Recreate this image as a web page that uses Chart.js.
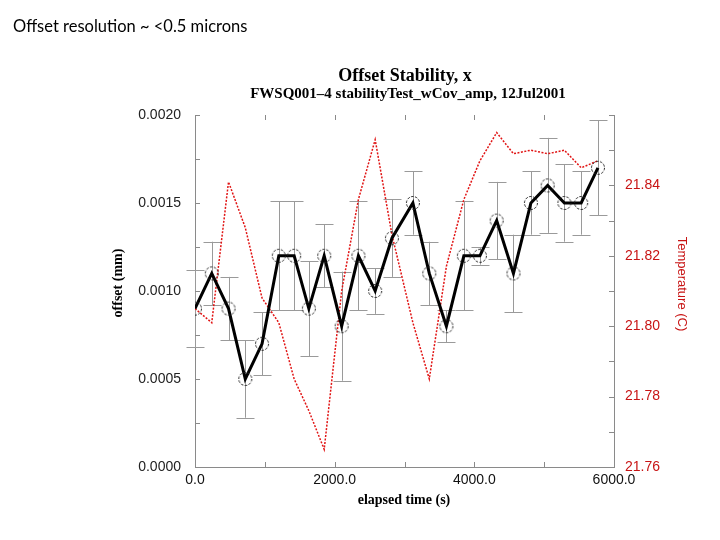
<!DOCTYPE html>
<html>
<head>
<meta charset="utf-8">
<script src="https://cdn.jsdelivr.net/npm/chart.js@4.4.0/dist/chart.umd.min.js"></script>
<style>
  body { margin: 0; background: #fff; }
  #wrap { position: relative; width: 720px; height: 540px; }
  #note { position: absolute; left: 13px; top: 16px; font: 16.5px Lato, "Open Sans", sans-serif; color: #000; }
</style>
</head>
<body>
<div id="wrap">
  <canvas id="grafico" width="720" height="540"></canvas>
  <div id="note">Offset resolution ~ &lt;0.5 microns</div>
</div>
<script>
// elapsed time (s) of each measurement
const times = [0, 240, 480, 720, 960, 1200, 1420, 1630, 1850, 2100, 2340, 2580, 2820,
               3120, 3355, 3600, 3850, 4080, 4320, 4560, 4810, 5050, 5290, 5530, 5770];
// offset (mm) and its error
const offsetMm = [0.0009, 0.0011, 0.0009, 0.0005, 0.0007, 0.0012, 0.0012, 0.0009, 0.0012, 0.0008,
                  0.0012, 0.0010, 0.0013, 0.0015, 0.0011, 0.0008, 0.0012, 0.0012, 0.0014, 0.0011,
                  0.0015, 0.0016, 0.0015, 0.0015, 0.0017];
const offsetErr = [0.00022, 0.00018, 0.00018, 0.00022, 0.00018, 0.00031, 0.00031, 0.00027, 0.00018, 0.00031,
                   0.00031, 0.00013, 0.00022, 0.00018, 0.00018, 0.00009, 0.00031, 0.00005, 0.00022, 0.00022,
                   0.00018, 0.00027, 0.00022, 0.00018, 0.00027];
// temperature (C)
const tempC = [21.805, 21.801, 21.841, 21.828, 21.808, 21.801, 21.785, 21.776, 21.765, 21.810,
               21.836, 21.853, 21.826, 21.801, 21.785, 21.817, 21.836, 21.847, 21.855, 21.849,
               21.850, 21.849, 21.850, 21.845, 21.847];

// tick labels
const xLabels = [0, 2000, 4000, 6000];
const offsetLabels = [0, 0.0005, 0.0010, 0.0015, 0.0020];
const tempLabels = [21.76, 21.78, 21.80, 21.82, 21.84];

const rojo = "rgb(200,20,20)";
const gris = "#8a8a8a";
const sans = '"Liberation Sans", Arial, sans-serif';

function tieneEtiqueta(lista, v, tol) {
    return lista.some(l => Math.abs(l - v) < tol);
}

// circulo punteado para los puntos
const marca = document.createElement("canvas");
marca.width = 16; marca.height = 16;
(function () {
    const c = marca.getContext("2d");
    c.strokeStyle = "#222";
    c.lineWidth = 1;
    c.setLineDash([2.5, 1.5]);
    c.beginPath();
    c.arc(8, 8, 6.5, 0, Math.PI * 2);
    c.stroke();
})();

// barras de error
const errorBars = {
    id: "errorBars",
    beforeDatasetsDraw(chart) {
        const ctx = chart.ctx, x = chart.scales.x, y = chart.scales.y;
        ctx.save();
        ctx.strokeStyle = "#9a9a9a";
        ctx.lineWidth = 1;
        times.forEach((t, i) => {
            const px = Math.round(x.getPixelForValue(t)) + 0.5;
            const top = y.getPixelForValue(offsetMm[i] + offsetErr[i]);
            const bot = y.getPixelForValue(offsetMm[i] - offsetErr[i]);
            ctx.beginPath();
            ctx.moveTo(px, top); ctx.lineTo(px, bot);
            ctx.moveTo(px - 9, Math.round(top) + 0.5); ctx.lineTo(px + 9, Math.round(top) + 0.5);
            ctx.moveTo(px - 9, Math.round(bot) + 0.5); ctx.lineTo(px + 9, Math.round(bot) + 0.5);
            ctx.stroke();
        });
        ctx.restore();
    }
};

// marcas hacia adentro y textos
const decoracion = {
    id: "decoracion",
    afterDraw(chart) {
        const ctx = chart.ctx, a = chart.chartArea;
        const x = chart.scales.x, y = chart.scales.y, y1 = chart.scales.y1;
        ctx.save();
        ctx.strokeStyle = gris;
        ctx.lineWidth = 1;
        ctx.beginPath();
        x.ticks.forEach(t => {
            const px = Math.round(x.getPixelForValue(t.value)) + 0.5;
            ctx.moveTo(px, a.bottom); ctx.lineTo(px, a.bottom - 5);
            ctx.moveTo(px, a.top); ctx.lineTo(px, a.top + 5);
        });
        y.ticks.forEach(t => {
            const py = Math.round(y.getPixelForValue(t.value)) + 0.5;
            ctx.moveTo(a.left, py); ctx.lineTo(a.left + 5, py);
        });
        y1.ticks.forEach(t => {
            const py = Math.round(y1.getPixelForValue(t.value)) + 0.5;
            ctx.moveTo(a.right, py); ctx.lineTo(a.right - 5, py);
        });
        ctx.stroke();

        ctx.fillStyle = "#000";
        ctx.textAlign = "center";
        ctx.textBaseline = "middle";
        ctx.font = 'bold 18px "Liberation Serif"';
        ctx.fillText("Offset Stability, x", 405, 76);
        ctx.font = 'bold 15px "Liberation Serif"';
        ctx.fillText("FWSQ001\u20134 stabilityTest_wCov_amp, 12Jul2001", 408, 94);
        ctx.font = 'bold 14px "Liberation Serif"';
        ctx.fillText("elapsed time (s)", 404, 500);

        ctx.save();
        ctx.translate(118, 283);
        ctx.rotate(-Math.PI / 2);
        ctx.fillText("offset (mm)", 0, 0);
        ctx.restore();

        ctx.save();
        ctx.translate(682, 284);
        ctx.rotate(Math.PI / 2);
        ctx.fillStyle = rojo;
        ctx.font = '13px ' + sans;
        ctx.fillText("Temperature (C)", 0, 0);
        ctx.restore();
        ctx.restore();
    }
};

new Chart(document.getElementById("grafico").getContext("2d"), {
    type: "line",
    data: {
        datasets: [
            {
                label: "offset",
                data: times.map((t, i) => ({ x: t, y: offsetMm[i] })),
                yAxisID: "y",
                borderColor: "#000",
                borderWidth: 3,
                pointStyle: marca,
                pointRadius: 6,
                tension: 0
            },
            {
                label: "temperature",
                data: times.map((t, i) => ({ x: t, y: tempC[i] })),
                yAxisID: "y1",
                borderColor: "rgb(225,20,20)",
                borderWidth: 1.5,
                borderDash: [2, 1.5],
                pointRadius: 0,
                tension: 0
            }
        ]
    },
    options: {
        responsive: false,
        animation: false,
        devicePixelRatio: 1,
        layout: { padding: { top: 115, left: 0, right: 0, bottom: 0 } },
        plugins: { legend: { display: false }, tooltip: { enabled: false } },
        scales: {
            x: {
                type: "linear",
                min: 0, max: 6000,
                afterFit: s => { s.height = 73; },
                grid: { display: false, drawTicks: false },
                border: { display: true, color: gris, width: 1 },
                ticks: {
                    stepSize: 1000, autoSkip: false, maxRotation: 0, padding: 5,
                    color: "#111", font: { family: sans, size: 14 },
                    callback: v => tieneEtiqueta(xLabels, v, 1) ? v.toFixed(1) : ""
                }
            },
            y: {
                position: "left",
                min: 0, max: 0.002,
                afterFit: s => { s.width = 195; },
                grid: { display: false, drawTicks: false },
                border: { display: true, color: gris, width: 1 },
                ticks: {
                    stepSize: 0.00025, autoSkip: false, padding: 14,
                    color: "#222", font: { family: sans, size: 14 },
                    callback: v => tieneEtiqueta(offsetLabels, v, 1e-7) ? v.toFixed(4) : ""
                }
            },
            y1: {
                position: "right",
                min: 21.76, max: 21.86,
                afterFit: s => { s.width = 106; },
                grid: { display: false, drawTicks: false },
                border: { display: true, color: gris, width: 1 },
                ticks: {
                    stepSize: 0.01, autoSkip: false, padding: 11,
                    color: rojo, font: { family: sans, size: 14 },
                    callback: v => tieneEtiqueta(tempLabels, v, 1e-4) ? v.toFixed(2) : ""
                }
            }
        }
    },
    plugins: [errorBars, decoracion]
});
</script>
</body>
</html>
